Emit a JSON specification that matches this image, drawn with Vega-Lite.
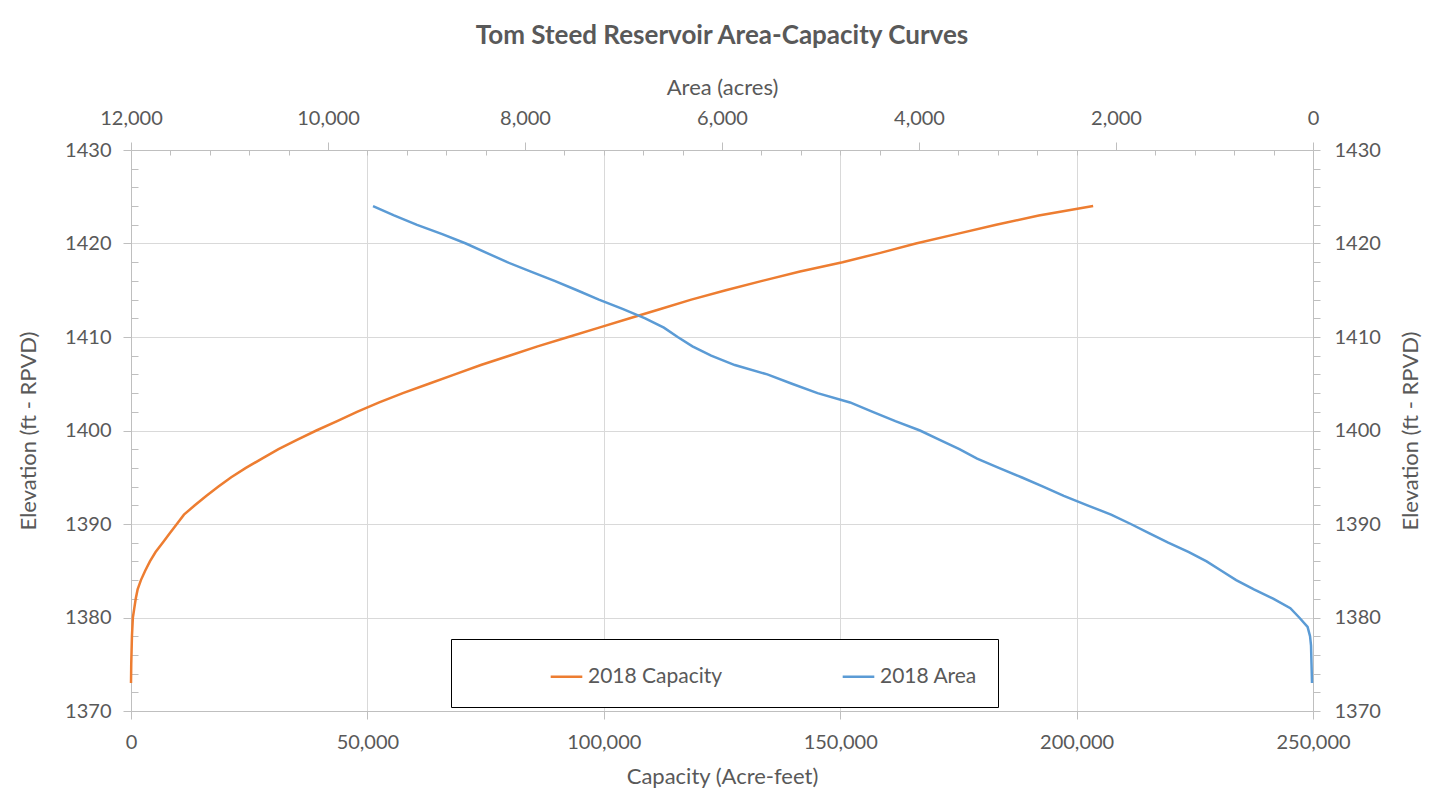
{
  "$schema": "https://vega.github.io/schema/vega-lite/v6.json",
  "width": 1182,
  "height": 561,
  "autosize": {"type": "none"},
  "padding": {"left": 131, "top": 150, "right": 128, "bottom": 93},
  "background": "white",
  "title": {"text": "Tom Steed Reservoir Area-Capacity Curves", "font": "Lato", "fontSize": 26, "fontWeight": "bold", "color": "#595959", "anchor": "middle", "offset": 27},
  "config": {
    "view": {"stroke": null},
    "axis": {"labelFont": "Lato", "titleFont": "Lato", "labelFontSize": 20, "titleFontSize": 22, "labelColor": "#595959", "titleColor": "#595959", "titleFontWeight": "normal", "domainColor": "#bfbfbf", "tickColor": "#bfbfbf", "gridColor": "#d9d9d9", "labelFlush": false, "labelOverlap": false}
  },
  "datasets": {
    "capacity": [
      {"elevation": 1373, "capacity": 0},
      {"elevation": 1375, "capacity": 50},
      {"elevation": 1378, "capacity": 200},
      {"elevation": 1380, "capacity": 400},
      {"elevation": 1381, "capacity": 700},
      {"elevation": 1382, "capacity": 1000},
      {"elevation": 1383, "capacity": 1400},
      {"elevation": 1384, "capacity": 2100},
      {"elevation": 1385, "capacity": 3000},
      {"elevation": 1386, "capacity": 4000},
      {"elevation": 1387, "capacity": 5200},
      {"elevation": 1388, "capacity": 6700},
      {"elevation": 1389, "capacity": 8200},
      {"elevation": 1390, "capacity": 9700},
      {"elevation": 1391, "capacity": 11200},
      {"elevation": 1392, "capacity": 13500},
      {"elevation": 1393, "capacity": 15900},
      {"elevation": 1394, "capacity": 18500},
      {"elevation": 1395, "capacity": 21200},
      {"elevation": 1396, "capacity": 24300},
      {"elevation": 1397, "capacity": 27700},
      {"elevation": 1398, "capacity": 31200},
      {"elevation": 1399, "capacity": 35100},
      {"elevation": 1400, "capacity": 39200},
      {"elevation": 1401, "capacity": 43600},
      {"elevation": 1402, "capacity": 47800},
      {"elevation": 1403, "capacity": 52500},
      {"elevation": 1404, "capacity": 57500},
      {"elevation": 1405, "capacity": 63000},
      {"elevation": 1406, "capacity": 68500},
      {"elevation": 1407, "capacity": 74000},
      {"elevation": 1408, "capacity": 80000},
      {"elevation": 1409, "capacity": 86000},
      {"elevation": 1410, "capacity": 92500},
      {"elevation": 1411, "capacity": 99000},
      {"elevation": 1412, "capacity": 105500},
      {"elevation": 1413, "capacity": 112000},
      {"elevation": 1414, "capacity": 118500},
      {"elevation": 1415, "capacity": 125800},
      {"elevation": 1416, "capacity": 133500},
      {"elevation": 1417, "capacity": 141500},
      {"elevation": 1418, "capacity": 150500},
      {"elevation": 1419, "capacity": 158500},
      {"elevation": 1420, "capacity": 166000},
      {"elevation": 1421, "capacity": 174500},
      {"elevation": 1422, "capacity": 183000},
      {"elevation": 1423, "capacity": 192000},
      {"elevation": 1424, "capacity": 203500}
    ],
    "area": [
      {"elevation": 1373, "area": 10},
      {"elevation": 1375, "area": 15},
      {"elevation": 1377, "area": 20},
      {"elevation": 1378, "area": 30},
      {"elevation": 1379, "area": 55},
      {"elevation": 1380, "area": 140},
      {"elevation": 1381, "area": 230},
      {"elevation": 1382, "area": 400},
      {"elevation": 1383, "area": 600},
      {"elevation": 1384, "area": 780},
      {"elevation": 1385, "area": 930},
      {"elevation": 1386, "area": 1080},
      {"elevation": 1387, "area": 1260},
      {"elevation": 1388, "area": 1470},
      {"elevation": 1389, "area": 1660},
      {"elevation": 1390, "area": 1850},
      {"elevation": 1391, "area": 2050},
      {"elevation": 1392, "area": 2290},
      {"elevation": 1393, "area": 2530},
      {"elevation": 1394, "area": 2740},
      {"elevation": 1395, "area": 2960},
      {"elevation": 1396, "area": 3190},
      {"elevation": 1397, "area": 3410},
      {"elevation": 1398, "area": 3590},
      {"elevation": 1399, "area": 3790},
      {"elevation": 1400, "area": 3990},
      {"elevation": 1401, "area": 4240},
      {"elevation": 1402, "area": 4470},
      {"elevation": 1403, "area": 4700},
      {"elevation": 1404, "area": 5030},
      {"elevation": 1405, "area": 5290},
      {"elevation": 1406, "area": 5540},
      {"elevation": 1407, "area": 5870},
      {"elevation": 1408, "area": 6110},
      {"elevation": 1409, "area": 6300},
      {"elevation": 1410, "area": 6450},
      {"elevation": 1411, "area": 6590},
      {"elevation": 1412, "area": 6780},
      {"elevation": 1413, "area": 7010},
      {"elevation": 1414, "area": 7250},
      {"elevation": 1415, "area": 7472},
      {"elevation": 1416, "area": 7700},
      {"elevation": 1417, "area": 7940},
      {"elevation": 1418, "area": 8180},
      {"elevation": 1419, "area": 8390},
      {"elevation": 1420, "area": 8600},
      {"elevation": 1421, "area": 8840},
      {"elevation": 1422, "area": 9096},
      {"elevation": 1423, "area": 9330},
      {"elevation": 1424, "area": 9543}
    ]
  },
  "layer": [
    {
      "data": {"name": "capacity"},
      "mark": {"type": "line", "strokeWidth": 2.5},
      "encoding": {
        "x": {"field": "capacity", "type": "quantitative", "scale": {"domain": [0, 250000], "nice": false},
          "axis": {"orient": "bottom", "title": "Capacity (Acre-feet)", "values": [0, 50000, 100000, 150000, 200000, 250000], "format": ",.0f", "grid": true, "tickSize": 8, "labelPadding": 13, "titlePadding": 14}},
        "y": {"field": "elevation", "type": "quantitative", "scale": {"domain": [1370, 1430], "nice": false, "zero": false},
          "axis": {"orient": "left", "title": "Elevation (ft - RPVD)", "format": "d", "grid": true,
            "values": [1370, 1372, 1374, 1376, 1378, 1380, 1382, 1384, 1386, 1388, 1390, 1392, 1394, 1396, 1398, 1400, 1402, 1404, 1406, 1408, 1410, 1412, 1414, 1416, 1418, 1420, 1422, 1424, 1426, 1428, 1430],
            "labelExpr": "datum.value % 10 === 0 ? datum.label : ''",
            "gridOpacity": {"condition": {"test": "datum.value % 10 === 0", "value": 1}, "value": 0},
            "tickSize": {"condition": {"test": "datum.value % 10 === 0", "value": 8}, "value": -7},
            "labelPadding": 12, "titlePadding": 24}},
        "color": {"datum": "2018 Capacity", "type": "nominal",
          "scale": {"domain": ["2018 Capacity", "2018 Area"], "range": ["#ED7D31", "#5B9BD5"]},
          "legend": {"orient": "none", "legendX": 320, "legendY": 489, "direction": "horizontal", "columns": 2, "gridAlign": "all", "title": null, "strokeColor": "black", "fillColor": "white", "padding": 20, "labelFont": "Lato", "labelFontSize": 21, "labelColor": "#595959", "symbolType": "stroke", "symbolStrokeWidth": 2.5, "symbolSize": 1000, "symbolOffset": 78, "columnPadding": 40}},
        "order": {"field": "elevation"}
      }
    },
    {
      "data": {"name": "area"},
      "mark": {"type": "line", "strokeWidth": 2.5},
      "encoding": {
        "x": {"field": "area", "type": "quantitative", "scale": {"domain": [0, 12000], "reverse": true, "nice": false},
          "axis": {"orient": "top", "title": "Area (acres)", "format": ",.0f", "grid": false,
            "values": [0, 400, 800, 1200, 1600, 2000, 2400, 2800, 3200, 3600, 4000, 4400, 4800, 5200, 5600, 6000, 6400, 6800, 7200, 7600, 8000, 8400, 8800, 9200, 9600, 10000, 10400, 10800, 11200, 11600, 12000],
            "labelExpr": "datum.value % 2000 === 0 ? datum.label : ''",
            "tickSize": {"condition": {"test": "datum.value % 2000 === 0", "value": 8}, "value": -5},
            "labelPadding": 14, "titlePadding": 9}},
        "y": {"field": "elevation", "type": "quantitative", "scale": {"domain": [1370, 1430], "nice": false, "zero": false},
          "axis": {"orient": "right", "title": "Elevation (ft - RPVD)", "format": "d", "grid": false, "titleAngle": 270, "titleBaseline": "top",
            "values": [1370, 1372, 1374, 1376, 1378, 1380, 1382, 1384, 1386, 1388, 1390, 1392, 1394, 1396, 1398, 1400, 1402, 1404, 1406, 1408, 1410, 1412, 1414, 1416, 1418, 1420, 1422, 1424, 1426, 1428, 1430],
            "labelExpr": "datum.value % 10 === 0 ? datum.label : ''",
            "tickSize": 7,
            "labelPadding": 14, "titlePadding": 20}},
        "color": {"datum": "2018 Area", "type": "nominal"},
        "order": {"field": "elevation"}
      }
    }
  ],
  "resolve": {"scale": {"x": "independent", "y": "independent"}}
}
